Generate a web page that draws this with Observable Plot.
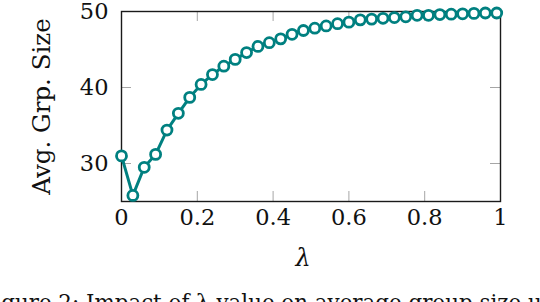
<!DOCTYPE html>
<html>
<head>
<meta charset="utf-8">
<script src="https://cdn.jsdelivr.net/npm/d3@7"></script>
<script src="https://cdn.jsdelivr.net/npm/@observablehq/plot@0.6"></script>
<style>
  html, body { margin: 0; padding: 0; background: #fff; overflow: hidden; }
  #chart { position: relative; width: 540px; height: 302px; overflow: hidden; }
  #chart svg, #chart svg text { font-family: "DejaVu Serif", serif !important; }
</style>
</head>
<body>
<div id="chart"></div>
<script>
const lambda = [0, 0.03, 0.06, 0.09, 0.12, 0.15, 0.18, 0.21, 0.24, 0.27, 0.30, 0.33, 0.36, 0.39, 0.42, 0.45, 0.48, 0.51, 0.54, 0.57, 0.60, 0.63, 0.66, 0.69, 0.72, 0.75, 0.78, 0.81, 0.84, 0.87, 0.90, 0.93, 0.96, 0.99];
const avgGroupSize = [31.0, 25.8, 29.5, 31.2, 34.4, 36.6, 38.7, 40.4, 41.7, 42.8, 43.7, 44.6, 45.4, 45.9, 46.4, 47.0, 47.5, 47.8, 48.1, 48.4, 48.6, 48.9, 49.0, 49.1, 49.2, 49.3, 49.5, 49.5, 49.6, 49.65, 49.7, 49.75, 49.8, 49.8];
const xTicks = [0, 0.2, 0.4, 0.6, 0.8, 1];
const xTickLabels = ["0", "0.2", "0.4", "0.6", "0.8", "1"];
const yTicks = [30, 40, 50];
const yTickLabels = ["30", "40", "50"];
const xLabel = "λ";
const yLabel = "Avg. Grp. Size";
const caption = "Figure 2: Impact of λ value on average group size using";

const data = lambda.map((x, i) => ({x, y: avgGroupSize[i]}));
const teal = "#008080";
const tickGray = "#a6a6a6";
const serif = "DejaVu Serif";

const chart = Plot.plot({
  width: 540,
  height: 302,
  marginLeft: 121,
  marginRight: 40,
  marginTop: 11,
  marginBottom: 101,
  style: {background: "white", overflow: "visible"},
  x: {domain: [0, 1], axis: null},
  y: {domain: [25, 50], axis: null},
  marks: [
    Plot.tickX(xTicks, {x: d => d, stroke: tickGray, strokeWidth: 1, insetTop: 180}),
    Plot.tickX(xTicks, {x: d => d, stroke: tickGray, strokeWidth: 1, insetBottom: 180}),
    Plot.tickY(yTicks, {y: d => d, stroke: tickGray, strokeWidth: 1, insetRight: 369}),
    Plot.tickY(yTicks, {y: d => d, stroke: tickGray, strokeWidth: 1, insetLeft: 369}),
    Plot.frame({stroke: "#1a1a1a", strokeWidth: 1.4}),
    Plot.line(data, {x: "x", y: "y", stroke: teal, strokeWidth: 3}),
    Plot.dot(data, {x: "x", y: "y", r: 5, stroke: teal, strokeWidth: 2.8, fill: "white"}),
    Plot.text(xTicks, {x: d => d, text: (d, i) => xTickLabels[i], frameAnchor: "bottom", dy: 23, fontSize: 22.5, fontFamily: serif, fill: "#111"}),
    Plot.text(yTicks, {y: d => d, text: (d, i) => yTickLabels[i], frameAnchor: "left", textAnchor: "end", dx: -13, fontSize: 22.5, fontFamily: serif, fill: "#111"}),
    Plot.text([xLabel], {text: d => d, frameAnchor: "bottom", dx: -8, dy: 64, fontSize: 24, fontStyle: "italic", fontFamily: serif, fill: "#111"}),
    Plot.text([yLabel], {text: d => d, frameAnchor: "left", textAnchor: "middle", dx: -79, rotate: -90, fontSize: 24.5, fontFamily: serif, fill: "#111"}),
    Plot.text([caption], {text: d => d, frameAnchor: "bottom-left", textAnchor: "start", lineAnchor: "bottom", dx: -142, dy: 108, fontSize: 21.4, fontFamily: serif, fill: "#111"})
  ]
});
document.getElementById("chart").appendChild(chart);
</script>
</body>
</html>
